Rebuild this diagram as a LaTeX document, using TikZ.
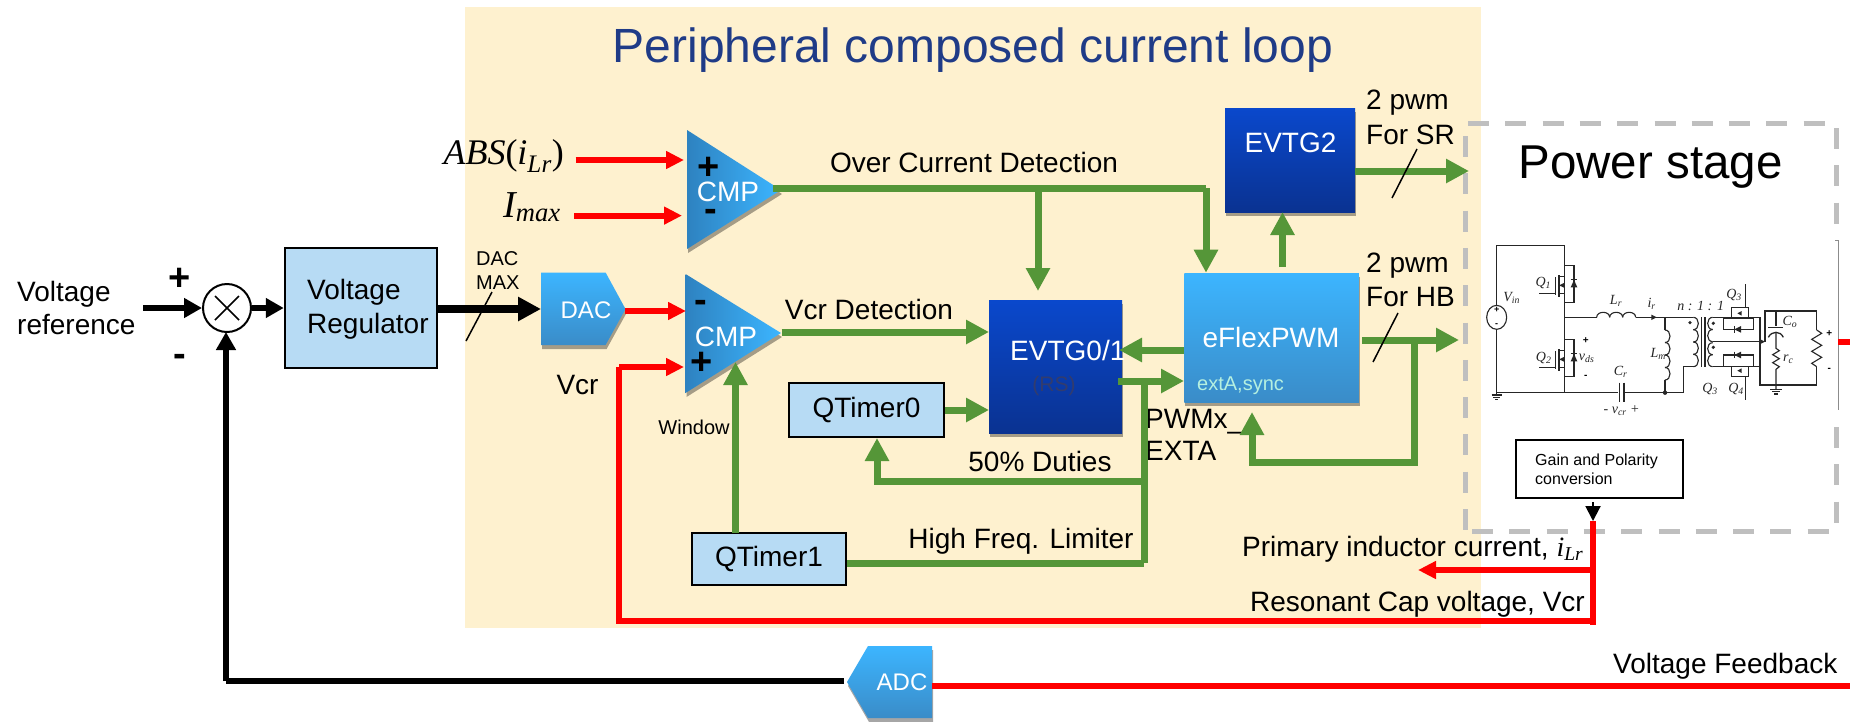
\documentclass[tikz,border=0pt]{standalone}
\usepackage{fontspec}
\setmainfont{Liberation Sans}
\newfontfamily\serifit{Liberation Serif}
\usetikzlibrary{arrows.meta,calc,shadows}
\definecolor{grn}{HTML}{559638}
\definecolor{peach}{HTML}{FEF1CF}
\definecolor{lblue}{HTML}{B7DBF4}
\definecolor{titleblue}{HTML}{1F3B87}
\definecolor{dashgray}{HTML}{BFBFBF}
\definecolor{darktop}{HTML}{0A48CC}
\definecolor{darkbot}{HTML}{0A3291}
\definecolor{brighttop}{HTML}{3CB5FF}
\definecolor{brightbot}{HTML}{3A8CC8}
\definecolor{trileft}{HTML}{2E82C0}
\definecolor{syncgreen}{HTML}{B5F0E0}
\definecolor{rsgray}{HTML}{323C6E}
\newcommand{\fsz}[1]{\fontsize{#1}{#1}\selectfont}
\newcommand{\coilH}[5]{\foreach \i in {1,...,#3}{\draw[ckt] ({#1+(\i-1)*#4},#2) .. controls ({#1+(\i-1)*#4},{#2-#5}) and ({#1+\i*#4},{#2-#5}) .. ({#1+\i*#4},#2);}}
\newcommand{\coilV}[5]{\foreach \i in {1,...,#3}{\draw[ckt] (#1,{#2+(\i-1)*#4}) .. controls ({#1+#5},{#2+(\i-1)*#4}) and ({#1+#5},{#2+\i*#4}) .. (#1,{#2+\i*#4});}}
\tikzset{
  lab/.style={inner sep=0pt,font=\fsz{28},text=black},
  labw/.style={lab,anchor=west,align=left},
  plusm/.style={inner sep=0pt,font=\fsz{38}\bfseries,text=black},
  grnline/.style={draw=grn,line width=7pt},
  grnarrow/.style={grnline,-{Triangle[length=23pt,width=23pt]}},
  redline/.style={draw=red,line width=6pt},
  redarrow/.style={redline,-{Triangle[length=18pt,width=17pt]}},
  blkline/.style={draw=black,line width=6pt},
  blkarrow/.style={blkline,-{Triangle[length=18pt,width=19pt]}},
  slashl/.style={draw=black,line width=1.5pt},
  dashb/.style={draw=dashgray,line width=5pt,dash pattern=on 21pt off 16.3pt},
  lightbox/.style={draw=black,line width=2.5pt,fill=lblue,inner sep=0pt,font=\fsz{28}},
  shad/.style={drop shadow={shadow xshift=1pt,shadow yshift=-4pt,opacity=.35,fill=black}},
  darkbox/.style={rectangle,inner sep=0pt,top color=darktop,bottom color=darkbot,shad},
  brightbox/.style={rectangle,inner sep=0pt,top color=brighttop,bottom color=brightbot,shad},
  tri/.style={left color=trileft,right color=brighttop,shad},
  whitetxt/.style={inner sep=0pt,text=white,font=\fsz{28}},
  ckt/.style={draw=black!85,line width=1.1pt},
  cktl/.style={inner sep=0pt,text=black!85,font=\serifit\itshape\fsz{14}},
}
\begin{document}
\begin{tikzpicture}[x=1pt,y=-1pt]
\useasboundingbox (0,0) rectangle (1850,721);
\fill[white] (0,0) rectangle (1850,721);
\fill[peach] (465,7) rectangle (1481,628);

\node[inner sep=0pt,text=titleblue,font=\fsz{48}] (title) at (973,50) {Peripheral composed current loop};

% dashed power stage frame
\coordinate (pTL) at (1468,123); \coordinate (pTR) at (1836,123);
\coordinate (pLT) at (1465,136); \coordinate (pLB) at (1465,531);
\coordinate (pBL) at (1472,531); \coordinate (pBR) at (1836,531);
\coordinate (pRT) at (1836,128); \coordinate (pRM) at (1836,226);
\coordinate (pRL) at (1836,427); \coordinate (pRB) at (1836,526);
\draw[dashb] (pTL) -- (pTR);
\draw[dashb] (pLT) -- (pLB);
\draw[dashb] (pBL) -- (pBR);
\draw[dashb] (pRT) -- (pRM);
\draw[dashb] (pRL) -- (pRB);
\coordinate (tinA) at (1835,240); \coordinate (tinB) at (1838.5,240); \coordinate (tinC) at (1838.5,410);
\draw[draw=black!45,line width=.7pt] (tinA) -- (tinB) -- (tinC);
\node[inner sep=0pt,font=\fsz{47.5}] (ptitle) at (1650.5,167) {Power stage};

% circuit
\begin{scope}[shift={(1440,100)},x=.33333pt,y=-.33333pt]
\draw[ckt] (170,652) ellipse [x radius=10pt,y radius=12pt];
\node[inner sep=0pt,font=\fsz{9}\bfseries] at (170,630) {+};
\node[inner sep=0pt,font=\fsz{9}\bfseries] at (170,675) {-};
\draw[ckt] (170,616) -- (170,437) -- (374,437) -- (374,878);
\draw[ckt] (170,688) -- (170,878) -- (535,878);
\draw[ckt] (554,878) -- (730,878) -- (730,800) -- (762,800);
\draw[ckt,line width=1.3pt] (155,885) -- (185,885) (160,892) -- (180,892) (165,899) -- (175,899);
\draw[ckt] (170,878) -- (170,885);
% Q1, Q2
\foreach \d in {0,222}{
 \draw[ckt] (374,{497+\d}) -- (402,{497+\d}) -- (402,{607+\d}) -- (374,{607+\d});
 \draw[ckt,line width=1.3pt] (347,{532+\d}) -- (347,{584+\d}) (357,{525+\d}) -- (357,{590+\d});
 \draw[ckt] (357,{530+\d}) -- (374,{530+\d}) (357,{580+\d}) -- (374,{580+\d}) (357,{556+\d}) -- (374,{556+\d});
 \draw[ckt] (297,{580+\d}) -- (347,{580+\d});
 \fill[black!85] (357,{556+\d}) -- (372,{549+\d}) -- (372,{563+\d}) -- cycle;
 \fill[black!85] (392,{562+\d}) -- (412,{562+\d}) -- (402,{540+\d}) -- cycle;
 \draw[ckt] (392,{538+\d}) -- (412,{538+\d});
}
\node[cktl] at (310,550) {Q\textsubscript{1}};
\node[cktl] at (311,773) {Q\textsubscript{2}};
\node[cktl] at (215,594) {V\textsubscript{in}};
\node[cktl] at (440,775) {v\textsubscript{ds}};
\node[inner sep=0pt,font=\fsz{10}\bfseries] at (437,721) {+};
\node[inner sep=0pt,font=\fsz{10}\bfseries] at (437,830) {-};
% resonant tank
\draw[ckt] (374,652) -- (470,652);
\coilH{470}{652}{3}{39}{20}
\draw[ckt] (587,652) -- (760,652);
\fill[black!85] (650,652) -- (634,644) -- (634,660) -- cycle;
\node[cktl] at (528,603) {L\textsubscript{r}};
\node[cktl] at (635,612) {i\textsubscript{r}};
\draw[ckt] (675,652) -- (675,690);
\coilV{675}{690}{4}{37.5}{20}
\draw[ckt] (675,840) -- (675,878);
\fill[black!85] (675,878) circle (2.2pt);
\node[cktl] at (655,762) {L\textsubscript{m}};
\draw[ckt,line width=1.3pt] (538,848) -- (538,905) (552,848) -- (552,905);
\node[cktl] at (542,815) {C\textsubscript{r}};
\node[cktl] at (545,932) {- v\textsubscript{cr} +};
% transformer
\coilV{760}{652}{4}{37}{20}
\draw[ckt] (785,652) -- (785,800) (795,652) -- (795,800);
\coilV{818}{652}{2}{36.5}{-20}
\coilV{818}{728}{2}{36}{-20}
\fill[black!85] (750,668) circle (1.8pt) (820,670) circle (1.8pt) (820,742) circle (1.8pt);
\node[cktl] at (782,618) {n : 1 : 1};
\node[cktl] at (810,866) {Q\textsubscript{3}};
% secondary
\draw[ckt] (818,652) -- (960,652) -- (960,855) -- (1130,855) -- (1130,800);
\draw[ckt] (818,800) -- (960,800);
\draw[ckt] (818,725) -- (975,725);
\fill[black!85] (975,725) -- (961,718) -- (961,732) -- cycle;
\draw[ckt] (975,725) -- (975,633) -- (1130,633) -- (1130,690);
\draw[ckt] (850,655) rectangle (940,688);
\draw[ckt] (850,765) rectangle (940,800);
\fill[black!85] (883,688) -- (903,678) -- (903,698) -- cycle;
\fill[black!85] (883,765) -- (903,755) -- (903,775) -- cycle;
\draw[ckt] (883,678) -- (883,698) (883,755) -- (883,775);
\draw[ckt] (875,652) -- (875,622) -- (925,622) -- (925,652);
\draw[ckt] (875,800) -- (875,830) -- (925,830) -- (925,800);
\draw[ckt] (917,552) -- (917,622) (917,830) -- (917,900);
\fill[black!85] (892,640) -- (905,633) -- (905,647) -- cycle;
\fill[black!85] (892,812) -- (905,805) -- (905,819) -- cycle;
\node[cktl] at (882,586) {Q\textsubscript{3}};
\node[cktl] at (888,868) {Q\textsubscript{4}};
% output filter
\draw[ckt] (1008,633) -- (1008,678);
\draw[ckt,line width=1.3pt] (985,682) -- (1030,682);
\draw[ckt,line width=1.3pt] (985,712) .. controls (995,692) and (1021,692) .. (1030,712);
\draw[ckt] (1008,698) -- (1008,745) -- (1018,752) -- (998,764) -- (1018,776) -- (998,788) -- (1018,800) -- (1008,808) -- (1008,868);
\draw[ckt,line width=1.3pt] (990,868) -- (1026,868) (996,875) -- (1020,875) (1002,882) -- (1014,882);
\node[cktl] at (1050,665) {C\textsubscript{o}};
\node[cktl] at (1045,778) {r\textsubscript{c}};
\draw[ckt] (1130,690) -- (1145,700) -- (1115,718) -- (1145,736) -- (1115,754) -- (1145,772) -- (1115,790) -- (1130,800);
\node[inner sep=0pt,font=\fsz{10}\bfseries] at (1168,700) {+};
\node[inner sep=0pt,font=\fsz{10}\bfseries] at (1168,810) {-};
\end{scope}

\node[draw=black,line width=2pt,fill=white,minimum width=167pt,minimum height=58pt,inner sep=0pt] (gain) at (1599.5,469) {};
\node[inner sep=0pt,anchor=west,align=left,font=\fontsize{16}{19}\selectfont] (gaintxt) at (1535,469) {Gain and Polarity\\conversion};

% ===== boxes =====
\node[lightbox,minimum width=152pt,minimum height=120pt] (reg) at (361,308) {};
\node[labw,font=\fontsize{28}{34}\selectfont] (regt) at (307,309) {Voltage\\Regulator};

\node[draw=black,line width=2pt,fill=white,circle,minimum size=48pt,inner sep=0pt] (sum) at (227,308) {};
\draw[line width=1.5pt] ($(sum)+(-12,-12)$) -- ($(sum)+(12,12)$);
\draw[line width=1.5pt] ($(sum)+(-12,12)$) -- ($(sum)+(12,-12)$);

\node[darkbox,minimum width=130pt,minimum height=104pt] (evtgb) at (1290,160) {};
\node[whitetxt] (evtgbt) at (1290.5,143) {EVTG2};
\node[brightbox,minimum width=174.5pt,minimum height=129pt] (flex) at (1271.7,337.5) {};
\node[whitetxt] (flext) at (1271,337) {eFlexPWM};
\node[inner sep=0pt,anchor=west,text=syncgreen,font=\fsz{20}] (flexs) at (1197,386) {extA,sync};
\node[darkbox,minimum width=133pt,minimum height=133pt] (evtg) at (1055.5,366.5) {};
\node[whitetxt,anchor=west] (evtgt) at (1010,350) {EVTG0/1};
\node[inner sep=0pt,text=rsgray,font=\fsz{21}] (evtgrs) at (1054,386) {(RS)};
\node[lightbox,minimum width=155pt,minimum height=54pt] (qa) at (866.5,410) {QTimer0};
\node[lightbox,minimum width=154pt,minimum height=52pt] (qb) at (769,559) {QTimer1};

% comparators
\path[tri] (687,130) -- (781,190) -- (687,249) -- cycle;
\path[tri] (685.5,274) -- (781,333) -- (685.5,393) -- cycle;
\node[whitetxt] (cmpa) at (728,192) {CMP};
\node[whitetxt] (cmpb) at (726,337) {CMP};
\node[plusm] (cap) at (708.5,168) {+};
\node[plusm] (cam) at (711,215) {-};
\node[plusm] (cbm) at (701,306) {-};
\node[plusm] (cbp) at (702,363) {+};

% DAC ADC
\path[top color=brighttop,bottom color=brightbot,shad] (541,272.5) -- (605.6,272.5) -- (625.5,309) -- (605.6,345) -- (541,345) -- cycle;
\node[whitetxt,font=\fsz{24}] (dac) at (586,310) {DAC};
\path[top color=brighttop,bottom color=brightbot,shad] (847,682) -- (868,646) -- (932,646) -- (932,718) -- (868,718) -- cycle;
\node[whitetxt,font=\fsz{24}] (adc) at (902,682) {ADC};

% ===== texts =====
\node[labw,font=\fontsize{28}{33}\selectfont] (vref) at (17,308) {Voltage\\reference};
\node[plusm] (sp) at (180,279) {+};
\node[plusm] (sm) at (180,360) {-};
\node[labw,font=\fontsize{20}{24}\selectfont] (dm) at (476,271) {DAC\\MAX};
\node[lab] (vcr) at (577.5,385) {Vcr};
\node[lab,font=\fsz{20}] (win) at (694,427) {Window};
\node[inner sep=0pt,anchor=east,font=\serifit\fsz{36}] (abs) at (564,156) {\itshape ABS\upshape(\itshape i\textsubscript{Lr}\upshape)};
\node[inner sep=0pt,anchor=east,font=\serifit\fsz{38}] (imax) at (561,207) {\itshape I\textsubscript{max}};
\node[lab] (ocd) at (974,162) {Over Current Detection};
\node[lab] (vcd) at (869,309) {Vcr Detection};
\node[lab] (duty) at (1040,461) {50\% Duties};
\node[lab] (hfl) at (1021,541) {High Freq. Limiter};
\node[labw,font=\fontsize{28}{32}\selectfont] (pwmx) at (1145,435) {PWMx\_\\EXTA};
\node[labw,font=\fontsize{28}{35}\selectfont] (psr) at (1366,117) {2 pwm\\For SR};
\node[labw,font=\fontsize{28}{34}\selectfont] (phb) at (1366,280) {2 pwm\\For HB};
\node[lab,anchor=west] (prim) at (1242,549) {Primary inductor current, {\serifit\itshape i\textsubscript{Lr}}};
\node[lab,anchor=west] (res) at (1250,604) {Resonant Cap voltage, Vcr};
\node[lab,anchor=west] (fb) at (1613,666) {Voltage Feedback};

% ===== coordinates =====
\coordinate (sumin) at (143,308);
\coordinate (dacW) at (541,309); \coordinate (dacE) at (625,311);
\coordinate (cbMinus) at (686,311); \coordinate (cbPlus) at (684,367);
\coordinate (absE) at (575.5,160); \coordinate (capIn) at (684,160);
\coordinate (imE) at (574,215.6); \coordinate (camIn) at (682,215.6);
\coordinate (caTip) at (773,188); \coordinate (bend1) at (1206,188);
\coordinate (flexTop) at (1206,272.7);
\coordinate (jOC) at (1038,188); \coordinate (evtgIn) at (1038,291);
\coordinate (cbTip) at (781.5,332); \coordinate (evtgW) at (989,332);
\coordinate (evtgM) at (989,410);
\coordinate (flexL1) at (1184,350); \coordinate (evtgE1) at (1119,350);
\coordinate (evtgE2) at (1118,381); \coordinate (flexL2) at (1184,381);
\coordinate (j1) at (1144,381); \coordinate (j2) at (1144,481); \coordinate (j3) at (1144,563);
\coordinate (dutyB) at (877,481); \coordinate (qaB) at (877,438);
\coordinate (qbT) at (735.5,533); \coordinate (cbB) at (735.5,362);
\coordinate (oSR) at (1469,171); \coordinate (eb) at (1355,171);
\coordinate (flexUp) at (1282.5,267); \coordinate (ebB) at (1282.5,212);
\coordinate (fo) at (1362,340); \coordinate (foT) at (1459,340);
\coordinate (j4) at (1414,340); \coordinate (j5) at (1414,462); \coordinate (j6) at (1252,462); \coordinate (flexB) at (1252,412);
\coordinate (gainIn) at (1593,521); \coordinate (gainOut) at (1593,502);
\coordinate (rB) at (1593,625); \coordinate (rC) at (619,620.8); \coordinate (rCb) at (1593,620.8); \coordinate (rD) at (619,367);
\coordinate (rPrim) at (1593,570); \coordinate (primT) at (1418,570);
\coordinate (adcE) at (932,686); \coordinate (fbE) at (1850,686);
\coordinate (adcW) at (844,681); \coordinate (fbL) at (226,681); \coordinate (sumB) at (226,332);
\coordinate (smallA) at (1838,342); \coordinate (smallB) at (1850,342);
\coordinate (slA) at (492,292); \coordinate (slB) at (466,341);
\coordinate (slC) at (1417,149); \coordinate (slD) at (1392,198);
\coordinate (slE) at (1398,313); \coordinate (slF) at (1373,362);

% ===== connectors =====
\draw[blkarrow] (sumin) -- (sum.west);
\draw[blkarrow] (sum.east) -- (reg.west);
\draw[blkline,line width=8pt,-{Triangle[length=23pt,width=23pt]}] (reg.east |- dacW) -- (dacW);
\draw[redarrow] (dacE) -- (cbMinus);
\draw[redarrow] (absE) -- (capIn);
\draw[redarrow] (imE) -- (camIn);
\draw[grnline] (caTip) -- (bend1);
\draw[grnarrow] (bend1) -- (flexTop);
\draw[grnarrow] (jOC) -- (evtgIn);
\draw[grnarrow] (cbTip) -- (evtgW);
\draw[grnarrow] (qa.east) -- (evtgM);
\draw[grnarrow] (flexL1) -- (evtgE1);
\draw[grnarrow] (evtgE2) -- (flexL2);
\draw[grnline] (j1) -- (j3);
\draw[grnline] (qb.east |- j3) -- (j3);
\draw[grnarrow] (j2) -- (dutyB) -- (qaB);
\draw[grnarrow] (qbT) -- (cbB);
\draw[grnarrow] (eb) -- (oSR);
\draw[grnarrow] (flexUp) -- (ebB);
\draw[grnarrow] (fo) -- (foT);
\draw[grnarrow] (j4) -- (j5) -- (j6) -- (flexB);
\draw[draw=black,line width=2pt,-{Triangle[length=15pt,width=15pt]}] (gainOut) -- (gainIn);
\draw[redline] (gainIn) -- (rB);
\draw[redline] (rCb) -- (rC) -- (rD);
\draw[redarrow] (rD) -- (cbPlus);
\draw[redarrow] (rPrim) -- (primT);
\draw[redline] (adcE) -- (fbE);
\draw[blkline] (adcW) -- (fbL);
\draw[blkarrow] (fbL) -- (sumB);
\draw[redline] (smallA) -- (smallB);
\draw[slashl] (slA) -- (slB);
\draw[slashl] (slC) -- (slD);
\draw[slashl] (slE) -- (slF);
\end{tikzpicture}
\end{document}
